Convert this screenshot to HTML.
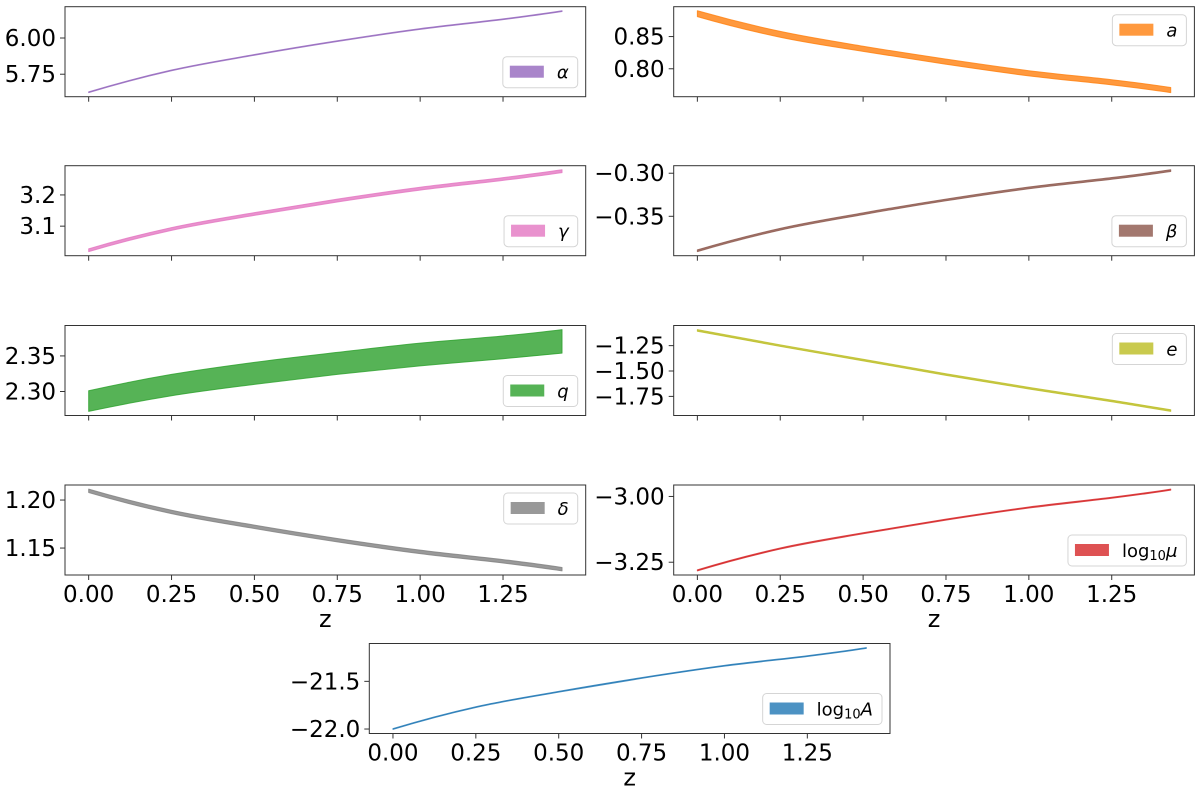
<!DOCTYPE html>
<html><head><meta charset="utf-8">
<style>
html,body{margin:0;padding:0;background:#fff;}
svg{display:block;font-family:"DejaVu Sans","Liberation Sans",sans-serif;}
</style></head>
<body>
<svg id="chart" width="1200" height="793" viewBox="0 0 1200 793" xmlns="http://www.w3.org/2000/svg"></svg>
<script>
// ---- data ----
const zValues = [0, 0.25, 0.5, 0.75, 1.0, 1.25, 1.428];
const xTickValues = [0, 0.25, 0.5, 0.75, 1.0, 1.25];
const xTickLabels = ["0.00", "0.25", "0.50", "0.75", "1.00", "1.25"];

const alphaLo = [5.623, 5.774, 5.881, 5.976, 6.060, 6.127, 6.183];
const alphaHi = [5.628, 5.779, 5.886, 5.981, 6.065, 6.132, 6.188];
const gammaLo = [3.0185, 3.0865, 3.1345, 3.1775, 3.2155, 3.2465, 3.2715];
const gammaHi = [3.0275, 3.0955, 3.1435, 3.1865, 3.2245, 3.2555, 3.2805];
const qLo = [2.272, 2.294, 2.310, 2.324, 2.336, 2.346, 2.354];
const qHi = [2.301, 2.324, 2.341, 2.355, 2.368, 2.378, 2.387];
const deltaLo = [1.2078, 1.1858, 1.1703, 1.1564, 1.1442, 1.1344, 1.1262];
const deltaHi = [1.2114, 1.1894, 1.1739, 1.1600, 1.1478, 1.1380, 1.1298];
const aLo = [0.881, 0.849, 0.827, 0.807, 0.789, 0.775, 0.763];
const aHi = [0.890, 0.858, 0.835, 0.815, 0.797, 0.783, 0.771];
const betaLo = [-0.391, -0.366, -0.348, -0.332, -0.318, -0.307, -0.298];
const betaHi = [-0.389, -0.364, -0.346, -0.330, -0.316, -0.305, -0.296];
const eLo = [-1.108, -1.258, -1.400, -1.543, -1.677, -1.803, -1.898];
const eHi = [-1.092, -1.242, -1.384, -1.527, -1.661, -1.787, -1.882];
const muLo = [-3.283, -3.200, -3.142, -3.090, -3.044, -3.007, -2.976];
const muHi = [-3.279, -3.196, -3.138, -3.086, -3.040, -3.003, -2.972];
const logALo = [-22.004, -21.774, -21.613, -21.469, -21.341, -21.239, -21.154];
const logAHi = [-21.996, -21.766, -21.605, -21.461, -21.333, -21.231, -21.146];

const alphaTicks = [5.75, 6.00], alphaTickLabels = ["5.75", "6.00"];
const gammaTicks = [3.1, 3.2], gammaTickLabels = ["3.1", "3.2"];
const qTicks = [2.30, 2.35], qTickLabels = ["2.30", "2.35"];
const deltaTicks = [1.15, 1.20], deltaTickLabels = ["1.15", "1.20"];
const aTicks = [0.80, 0.85], aTickLabels = ["0.80", "0.85"];
const betaTicks = [-0.35, -0.30], betaTickLabels = ["\u22120.35", "\u22120.30"];
const eTicks = [-1.75, -1.50, -1.25], eTickLabels = ["\u22121.75", "\u22121.50", "\u22121.25"];
const muTicks = [-3.25, -3.00], muTickLabels = ["\u22123.25", "\u22123.00"];
const logATicks = [-22.0, -21.5], logATickLabels = ["\u221222.0", "\u221221.5"];

const NS = "http://www.w3.org/2000/svg";
const svg = document.getElementById("chart");
function mk(tag, attrs, parent) {
  const e = document.createElementNS(NS, tag);
  for (const k in attrs) e.setAttribute(k, attrs[k]);
  (parent || svg).appendChild(e);
  return e;
}
function smoothPath(pts, moveTo) {
  const n = pts.length;
  const ext = [
    [3*pts[0][0]-3*pts[1][0]+pts[2][0], 3*pts[0][1]-3*pts[1][1]+pts[2][1]]
  ].concat(pts).concat([
    [3*pts[n-1][0]-3*pts[n-2][0]+pts[n-3][0], 3*pts[n-1][1]-3*pts[n-2][1]+pts[n-3][1]]
  ]);
  let d = (moveTo ? "M" : " L") + pts[0][0].toFixed(2) + "," + pts[0][1].toFixed(2);
  for (let i = 1; i < ext.length - 2; i++) {
    const p0 = ext[i - 1], p1 = ext[i], p2 = ext[i + 1], p3 = ext[i + 2];
    const c1x = p1[0] + (p2[0] - p0[0]) / 6, c1y = p1[1] + (p2[1] - p0[1]) / 6;
    const c2x = p2[0] - (p3[0] - p1[0]) / 6, c2y = p2[1] - (p3[1] - p1[1]) / 6;
    d += " C" + c1x.toFixed(2) + "," + c1y.toFixed(2) + " " + c2x.toFixed(2) + "," + c2y.toFixed(2) + " " + p2[0].toFixed(2) + "," + p2[1].toFixed(2);
  }
  return d;
}

const W = 520.7, H = 90;
const panels = [
  {id:"alpha", x:65, y:6.7, lo:alphaLo, hi:alphaHi, color:"#9467bd", ticks:alphaTicks, tl:alphaTickLabels, label:"\u03b1", loc:"lower", xl:false},
  {id:"gamma", x:65, y:165.7, lo:gammaLo, hi:gammaHi, color:"#e377c2", ticks:gammaTicks, tl:gammaTickLabels, label:"\u03b3", loc:"lower", xl:false},
  {id:"q", x:65, y:325.5, lo:qLo, hi:qHi, color:"#2ca02c", ticks:qTicks, tl:qTickLabels, label:"q", loc:"lower", xl:false},
  {id:"delta", x:65, y:485, lo:deltaLo, hi:deltaHi, color:"#7f7f7f", ticks:deltaTicks, tl:deltaTickLabels, label:"\u03b4", loc:"upper", xl:true},
  {id:"a", x:673.7, y:6.7, lo:aLo, hi:aHi, color:"#ff7f0e", ticks:aTicks, tl:aTickLabels, label:"a", loc:"upper", xl:false},
  {id:"beta", x:673.7, y:165.7, lo:betaLo, hi:betaHi, color:"#8c564b", ticks:betaTicks, tl:betaTickLabels, label:"\u03b2", loc:"lower", xl:false},
  {id:"e", x:673.7, y:325.5, lo:eLo, hi:eHi, color:"#bcbd22", ticks:eTicks, tl:eTickLabels, label:"e", loc:"upper", xl:false},
  {id:"mu", x:673.7, y:485, lo:muLo, hi:muHi, color:"#d62728", ticks:muTicks, tl:muTickLabels, label:"mu", loc:"lower", xl:true},
  {id:"logA", x:369.3, y:643.5, lo:logALo, hi:logAHi, color:"#1f77b4", ticks:logATicks, tl:logATickLabels, label:"A", loc:"lower", xl:true}
];

panels.forEach(p => {
  const g = mk("g", {});
  
  
  const zmin = Math.min(...zValues), zmax = Math.max(...zValues);
  const zm = (zmax - zmin) * 0.05;
  const ymin = Math.min(...p.lo), ymax = Math.max(...p.hi);
  const ym = (ymax - ymin) * 0.05;
  const sx = v => p.x + (v - (zmin - zm)) / ((zmax + zm) - (zmin - zm)) * W;
  const sy = v => p.y + H - (v - (ymin - ym)) / ((ymax + ym) - (ymin - ym)) * H;

  const up = zValues.map((z, i) => [sx(z), sy(p.hi[i])]);
  const dn = zValues.map((z, i) => [sx(z), sy(p.lo[i])]).reverse();
  const d = smoothPath(up, true) + smoothPath(dn, false) + " Z";
  const band = mk("path", {d: d, fill: p.color, stroke: p.color, "stroke-width": 1, "fill-opacity": 0.8, "stroke-opacity": 0.8, "stroke-linejoin":"round"}, g);
  
  

  const fr = mk("rect", {x: p.x, y: p.y, width: W, height: H, fill: "none", stroke: "#333", "stroke-width": 1}, g);
  
  

  p.ticks.forEach((t, i) => {
    const yy = sy(t);
    mk("line", {x1: p.x - 5, x2: p.x, y1: yy, y2: yy, stroke: "#333", "stroke-width": 1}, g);
    const tx = mk("text", {x: p.x - 9, y: yy + 8, "text-anchor": "end", "font-size": 23, fill: "#000"}, g);
    tx.textContent = p.tl[i];
    
    
  });
  xTickValues.forEach((t, i) => {
    const xx = sx(t);
    mk("line", {x1: xx, x2: xx, y1: p.y + H, y2: p.y + H + 5, stroke: "#333", "stroke-width": 1}, g);
    if (p.xl) {
      const tx = mk("text", {x: xx, y: p.y + H + 27, "text-anchor": "middle", "font-size": 23, fill: "#000"}, g);
      tx.textContent = xTickLabels[i];
      
      
    }
  });
  if (p.xl) {
    const xl = mk("text", {x: p.x + W / 2, y: p.y + H + 52, "text-anchor": "middle", "font-size": 24, fill: "#000"}, g);
    xl.textContent = "z";
    
    
  }

  const lg = mk("g", {}, g);
  
  
  const box = mk("rect", {rx: 4, ry: 4, fill: "#fff", "fill-opacity": 0.85, stroke: "#d5d5d5", "stroke-width": 1}, lg);
  const patch = mk("rect", {width: 34, height: 12, fill: p.color, "fill-opacity": 0.8}, lg);
  
  
  const lt = mk("text", {"font-size": 18, fill: "#000"}, lg);
  
  
  if (p.label === "mu" || p.label === "A") {
    const a = mk("tspan", {}, lt); a.textContent = "log";
    const b = mk("tspan", {"font-size": 13, dy: 3}, lt); b.textContent = "10";
    const c = mk("tspan", {"font-style": "italic", dy: -3}, lt); c.textContent = p.label === "mu" ? "\u03bc" : "A";
  } else {
    lt.setAttribute("font-style", "italic");
    lt.textContent = p.label;
  }
  const tw = lt.getComputedTextLength ? lt.getComputedTextLength() : 12;
  const bw = 7 + 34 + 13 + tw + 9, bh = 31;
  const bx = p.x + W - 8 - bw;
  const by = p.loc === "upper" ? p.y + 8 : p.y + H - 9 - bh;
  box.setAttribute("x", bx); box.setAttribute("y", by);
  box.setAttribute("width", bw); box.setAttribute("height", bh);
  patch.setAttribute("x", bx + 7); patch.setAttribute("y", by + 9);
  lt.setAttribute("x", bx + 7 + 34 + 13); lt.setAttribute("y", by + 22);
});
</script>
</body></html>
